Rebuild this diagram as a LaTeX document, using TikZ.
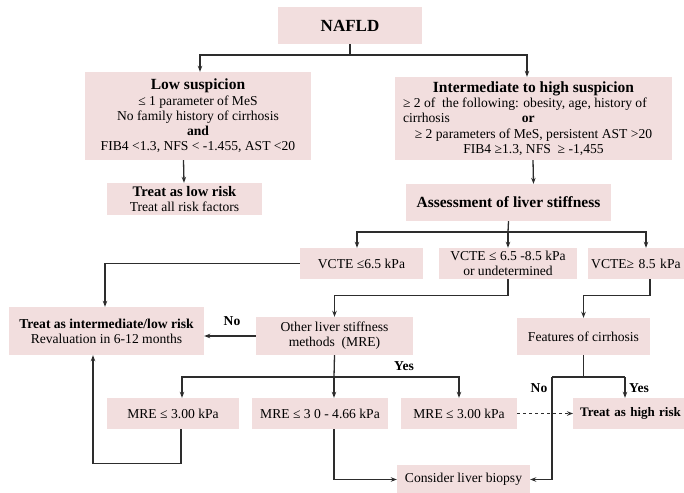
\documentclass[tikz,border=0pt]{standalone}
\usepackage{fontspec}
\setmainfont{Liberation Serif}
\usetikzlibrary{arrows.meta}
\definecolor{boxpink}{RGB}{242,222,222}
\definecolor{linegray}{RGB}{45,45,45}
\newcommand{\bodysize}{\fontsize{13.6}{15.3}\selectfont}
\newcommand{\headsize}{\fontsize{15.5}{15.3}\selectfont}
\begin{document}
\begin{tikzpicture}[x=1pt,y=-1pt,
  box/.style={fill=boxpink, inner sep=2pt, align=center, font=\bodysize},
  line/.style={draw=linegray, line width=1.3pt},
  arr/.style={line, -{Stealth[length=6pt,width=4.5pt]}},
  lbl/.style={font=\bodysize\bfseries, inner sep=1pt}]
\useasboundingbox (0,0) rectangle (684,492);

% boxes
\node[box, minimum width=144pt, minimum height=37pt] (nafld) at (350,25.5)
  {\fontsize{17}{18}\selectfont\bfseries NAFLD};
\node[box, minimum width=226pt, minimum height=88pt] (low) at (198,116)
  {{\headsize\bfseries Low suspicion}\\
   ≤ 1 parameter of MeS\\
   No family history of cirrhosis\\
   \textbf{and}\\
   FIB4 <1.3, NFS < -1.455, AST <20};
\node[box, minimum width=277pt, minimum height=83pt] (inter) at (533.5,118.5)
  {{\headsize\bfseries Intermediate to high suspicion}\\
   \makebox[261pt][l]{≥ 2 of\ \ the following: obesity, age, history of}\\
   \makebox[261pt][l]{cirrhosis\hspace{72pt}\textbf{or}}\\
   ≥ 2 parameters of MeS, persistent AST >20\\
   FIB4 ≥1.3, NFS\ \ ≥ -1,455};
\node[box, minimum width=155pt, minimum height=32pt] (treatlow) at (184.5,199)
  {{\fontsize{14.6}{15.3}\selectfont\bfseries Treat as low risk}\\Treat all risk factors};
\node[box, minimum width=205pt, minimum height=37pt] (assess) at (508.5,202.5)
  {\headsize\bfseries Assessment of liver stiffness};
\node[box, minimum width=123pt, minimum height=31pt] (vcte1) at (361.5,263.5)
  {VCTE ≤6.5 kPa};
\node[box, minimum width=138pt, minimum height=31pt] (vcte2) at (508,263.5)
  {VCTE ≤ 6.5 -8.5 kPa\\or undetermined};
\node[box, minimum height=31pt, anchor=west, text width=93pt, align=left, inner xsep=3pt]
  (vcte3) at (588,263.5) {VCTE≥ 8.5 kPa};
\node[box, minimum width=195pt, minimum height=48pt] (treatint) at (106.5,331)
  {\textbf{Treat as intermediate/low risk}\\Revaluation in 6-12 months};
\node[box, minimum width=157pt, minimum height=38pt] (other) at (334.5,336)
  {Other liver stiffness\\methods\ \ (MRE)};
\node[box, minimum width=133pt, minimum height=37pt] (feat) at (583.5,336.5)
  {Features of cirrhosis};
\node[box, minimum width=132pt, minimum height=31pt] (mre1) at (173,413.5)
  {MRE ≤ 3.00 kPa};
\node[box, minimum width=136pt, minimum height=31pt] (mre2) at (320,413.5)
  {MRE ≤ 3 0 - 4.66 kPa};
\node[box, minimum width=116pt, minimum height=31pt] (mre3) at (459,413.5)
  {MRE ≤ 3.00 kPa};
\node[box, minimum height=31pt, anchor=west, text width=110pt, align=left, inner xsep=7pt,
  font=\fontsize{13}{15.3}\selectfont]
  (high) at (573,413.5) {\bfseries Treat as high risk};
\node[box, minimum width=133pt, minimum height=30pt] (biopsy) at (463.5,479.5)
  {Consider liver biopsy};

% junction points
\coordinate (j1) at (350,55);
\coordinate (j2) at (508,232);
\coordinate (j3) at (334,377);
\coordinate (fl) at (552,377);
\coordinate (fr) at (625,377);
\coordinate (v3) at (646,0);
\coordinate (v3b) at (650,0);

% connectors
\draw[line] (nafld.south) -- (j1);
\draw[arr] (j1) -| ([xshift=2pt]low.north);
\draw[arr] (j1) -| ([xshift=-6.5pt]inter.north);
\draw[arr] ([xshift=-14.5pt]low.south) -- ([xshift=-0.5pt]treatlow.north);
\draw[arr] ([xshift=-0.5pt]inter.south) -- (inter.south |- assess.north);
\draw[line] (assess.south) -- (j2);
\draw[arr] (j2) -| ([xshift=-4.5pt]vcte1.north);
\draw[arr] (j2) -- (vcte2.north);
\draw[arr] (j2) -| (v3 |- vcte3.north);
\draw[arr] (vcte1.west) -| ([xshift=-1.5pt]treatint.north);
\draw[arr] (vcte2.south) -- ++(0,16) -| (other.north);
\draw[arr] (v3b |- vcte3.south) -- ++(0,16) -| (feat.north);
\draw[arr] (other.west) -- (other.west -| treatint.east);
\draw[line] (other.south) -- (j3);
\draw[arr] (j3) -| ([xshift=9pt]mre1.north);
\draw[arr] (j3) -- (j3 |- mre2.north);
\draw[arr] (j3) -| (mre3.north);
\draw[arr] ([xshift=8pt]mre1.south) -- ++(0,34) -| ([xshift=-13.5pt]treatint.south);
\draw[arr] (j3 |- mre2.south) |- (biopsy.west);
\draw[line] (feat.south) -- (feat.south |- fl);
\draw[line] (fl) -- (fr);
\draw[arr] (fr) -- (fr |- high.north);
\draw[arr] (fl) |- (biopsy.east);
\draw[arr, dashed] (mre3.east) -- (high.west);

% branch labels
\node[lbl] (lno1) at (232,321) {No};
\node[lbl] (lyes1) at (404,366) {Yes};
\node[lbl] (lno2) at (539,388) {No};
\node[lbl, anchor=west] (lyes2) at (628,388) {Yes};
\end{tikzpicture}
\end{document}
